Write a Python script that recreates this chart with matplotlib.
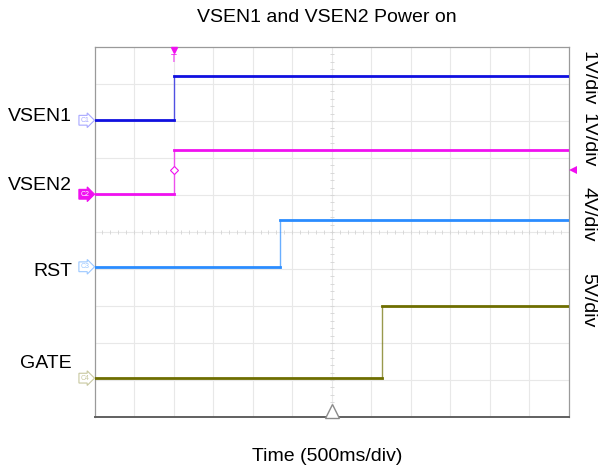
import matplotlib
matplotlib.use("Agg")
import matplotlib.pyplot as plt
import numpy as np

channels = ["VSEN1", "VSEN2", "RST", "GATE"]
chan_ids = ["C1", "C2", "C3", "C4"]
volts_per_div = [1, 1, 4, 5]
step_time_s = [1.0, 1.0, 2.34, 3.64]
v_low = [0.0, 0.0, 0.0, 0.0]
v_high = [1.2, 1.2, 5.1, 9.8]
time_span_s = [0.0, 6.0]          # 500 ms/div x 12 div
trigger_time_s = 1.0

# --- Display config ---
ground_div = [8.02, 6.02, 4.06, 1.05]    # channel ground level in divisions
colors = ["#1010e0", "#f010f0", "#2a8cff", "#6e6e00"]
tag_edge = ["#a8a8ff", "#f010f0", "#9cc8ff", "#c8c8a0"]
label_y_px = [116.5, 185, 271, 363]
scale_y_px = [78.5, 140.5, 214, 300]

plt.rcParams["font.family"] = ["Liberation Sans", "DejaVu Sans"]

W, H = 598, 473
fig = plt.figure(figsize=(W / 100, H / 100), dpi=100)
ax = fig.add_axes([94.5 / W, 1 - 417 / H, (569 - 94.5) / W, (417 - 47) / H])
ax.set_xlim(*time_span_s)
ax.set_ylim(0, 10)
ax.set_xticks([])
ax.set_yticks([])

# grid
grid_c = "#e8e8e8"
for gx in np.arange(0.5, 6.0, 0.5):
    ax.axvline(gx, color=grid_c, lw=0.8, zorder=0)
for gy in range(1, 10):
    ax.axhline(gy, color=grid_c, lw=0.8, zorder=0)
# minor ticks on centre lines
ax.plot(np.arange(0.1, 6.0, 0.1), np.full(59, 5.0), ls="none", marker="|",
        ms=2.5, color="#d4d4d4", mew=0.6, zorder=0)
ax.plot(np.full(49, 3.0), np.arange(0.2, 10.0, 0.2), ls="none", marker="_",
        ms=2.5, color="#d4d4d4", mew=0.6, zorder=0)

for sp in ax.spines.values():
    sp.set_color("#9a9a9a")
    sp.set_linewidth(0.9)
ax.spines["bottom"].set_color("#606060")
ax.spines["bottom"].set_linewidth(1.4)

# traces
for i in range(len(channels)):
    lo = ground_div[i] + v_low[i] / volts_per_div[i]
    hi = ground_div[i] + v_high[i] / volts_per_div[i]
    ax.plot([time_span_s[0], step_time_s[i]], [lo, lo], color=colors[i], lw=2, zorder=3)
    ax.plot([step_time_s[i], time_span_s[1]], [hi, hi], color=colors[i], lw=2, zorder=3)
    ax.plot([step_time_s[i], step_time_s[i]], [lo, hi], color=colors[i], lw=1, alpha=0.7, zorder=3)

    # channel tag on the left edge
    filled = i == 1
    ax.annotate(chan_ids[i], xy=(0, ground_div[i]), xycoords=("axes fraction", "data"),
                xytext=(-7, 0), textcoords="offset points", ha="center", va="center",
                fontsize=5, color="white" if filled else tag_edge[i],
                bbox=dict(boxstyle="rarrow,pad=0.2", fc=colors[i] if filled else "white",
                          ec=tag_edge[i], lw=0.8), annotation_clip=False, zorder=5)

    fig.text(72 / W, 1 - label_y_px[i] / H, channels[i], ha="right", va="center", fontsize=14)
    fig.text(588 / W, 1 - scale_y_px[i] / H, f"{volts_per_div[i]}V/div", ha="center",
             va="center", rotation=-90, fontsize=14)

# trigger markers
trig_c = "#f010f0"
ax.plot(trigger_time_s, 9.91, marker="v", ms=5, color=trig_c, clip_on=False, zorder=6)
ax.annotate("T", xy=(trigger_time_s, 10), xycoords="data", xytext=(0, -9),
            textcoords="offset points", color=trig_c, fontsize=7, ha="center",
            va="center", zorder=7)
ax.plot(trigger_time_s, 6.68, marker="D", ms=4, mfc="white", mec=trig_c, mew=0.8, zorder=6)
ax.plot([1.008], [6.68], transform=ax.get_yaxis_transform(), marker="<", ms=6,
        color=trig_c, mew=0, clip_on=False, zorder=6)
ax.plot(3.0, 0.15, marker="^", ms=10, mfc="white", mec="#8a8a8a", mew=1, clip_on=False, zorder=6)

fig.text(327 / W, 1 - 17 / H, "VSEN1 and VSEN2 Power on", ha="center", va="center", fontsize=14)
fig.text(327 / W, 1 - 456 / H, "Time (500ms/div)", ha="center", va="center", fontsize=14)

fig.savefig("out.png", dpi=100)
